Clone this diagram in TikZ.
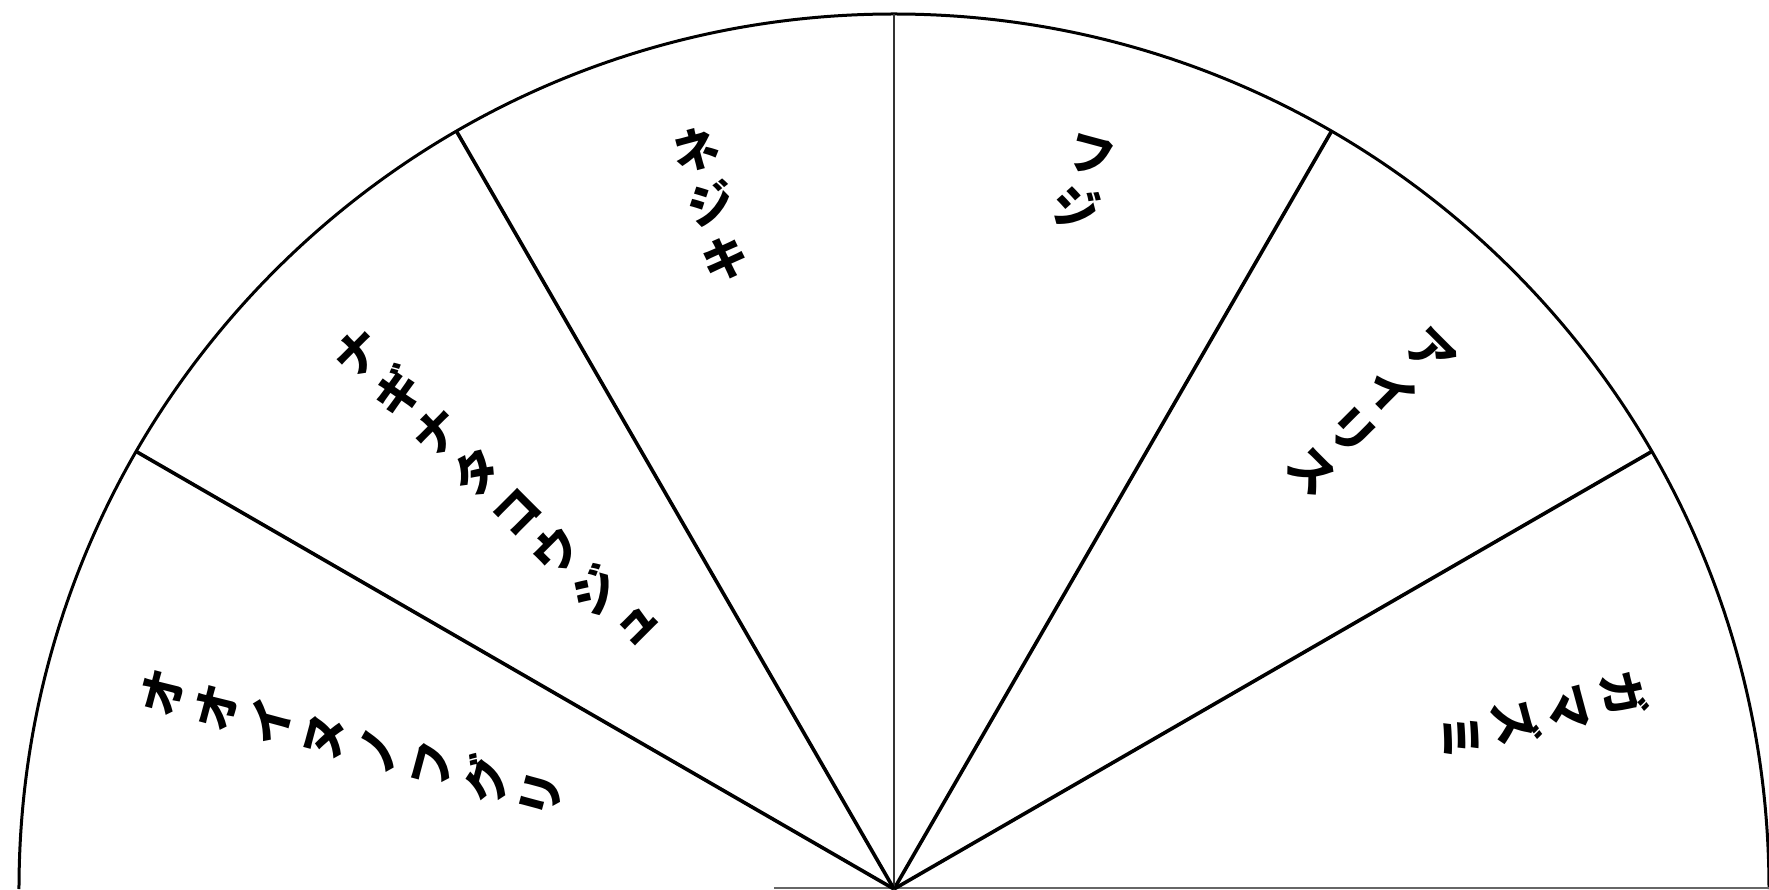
\documentclass[tikz,border=0pt]{standalone}
\usepackage{fontspec}
\newfontfamily\jpv[RawFeature=+vert]{Noto Sans CJK JP}
\begin{document}
\begin{tikzpicture}[x=1pt,y=1pt,
  arcline/.style={line width=3pt,black},
  radial/.style={line width=3.6pt,black},
  thinradial/.style={line width=2.2pt,black!80},
  lbl/.style={font=\jpv\bfseries\fontsize{48}{56}\selectfont,align=center,inner sep=0pt,anchor=north}]
\useasboundingbox (-894,0) rectangle (875,889);
\coordinate (O) at (0,0);
\coordinate (A0) at (0:875);
\coordinate (A180) at (180:875);
\coordinate (P30) at (30:875);
\coordinate (P60) at (60:875);
\coordinate (P90) at (90:875);
\coordinate (P120) at (120:875);
\coordinate (P150) at (150:875);
\coordinate (B) at (-120,1);
\coordinate (E) at (875,1);
\draw[arcline] (A0) arc[start angle=0,end angle=180,radius=875];
\draw[line width=2.2pt,black!60] (B) -- (E);
\draw[radial] (O) -- (P30);
\draw[radial] (O) -- (P60);
\draw[thinradial] (O) -- (P90);
\draw[radial] (O) -- (P120);
\draw[radial] (O) -- (P150);
\node[lbl,rotate=-75] (l15) at (15:778) {ガ\\マ\\ズ\\ミ};
\node[lbl,rotate=-45] (l45) at (45:778) {ア\\イ\\リ\\ス};
\node[lbl,rotate=-15] (l75) at (75:778) {フ\\ジ};
\node[lbl,rotate=15] (l105) at (105:786) {ネ\\ジ\\キ};
\node[lbl,rotate=45] (l135) at (135:778) {ナ\\ギ\\ナ\\タ\\コ\\ウ\\ジ\\ュ};
\node[lbl,rotate=75] (l165) at (165:778) {オ\\オ\\イ\\ヌ\\ノ\\フ\\グ\\リ};
\end{tikzpicture}
\end{document}
